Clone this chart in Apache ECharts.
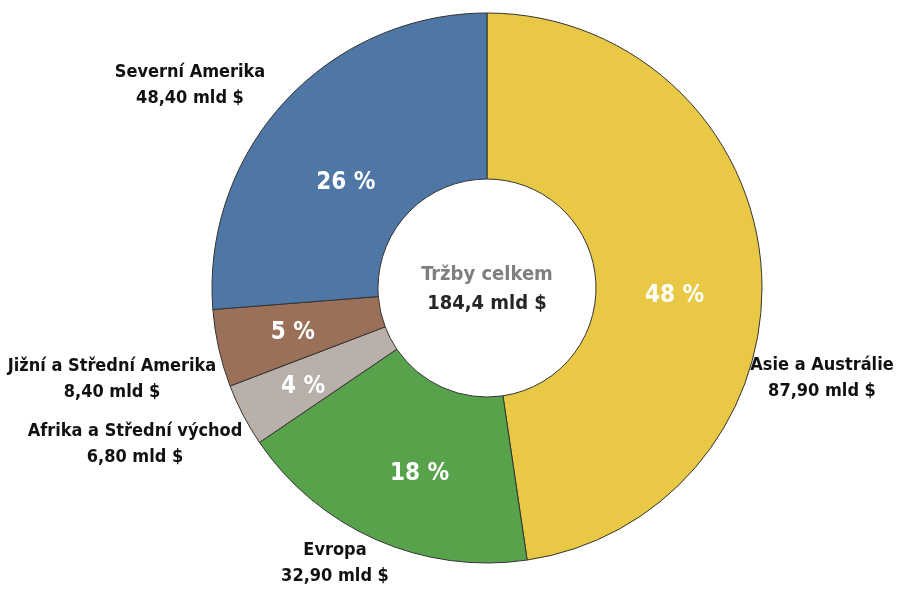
<!DOCTYPE html>
<html>
<head>
<meta charset="utf-8">
<script src="https://cdn.jsdelivr.net/npm/echarts@6/dist/echarts.min.js"></script>
<style>
  html, body { margin: 0; padding: 0; background: #fff; }
  #chart { width: 897px; height: 589px; }
</style>
</head>
<body>
<div id="chart"></div>
<script>
// Regional sales (bn USD)
const regions = ['Asie a Austrálie', 'Evropa', 'Afrika a Střední východ', 'Jižní a Střední Amerika', 'Severní Amerika'];
const sales = [87.90, 32.90, 6.80, 8.40, 48.40];
const sliceColors = ['#E9C846', '#58A24C', '#B9B0AA', '#9A7059', '#4E77A5'];
const centerTitle = 'Tržby celkem';
const centerTotal = '184,4 mld $';

// Label placement (outside name/value labels, and nudges for inside percentages)
const outerLabelPos = [[822, 378], [335, 563], [135, 444], [112, 379], [190, 85]];
const innerLabelNudge = [[-7, 22], [11, 7], [-11, 9], [-4, 2], [2, 27]];

const FONT = '"DejaVu Sans Condensed", "Liberation Sans Narrow", sans-serif';
const total = sales.reduce((a, b) => a + b, 0);
const fmt = v => v.toFixed(2).replace('.', ',') + ' mld $';

const data = regions.map((name, i) => ({
  name, value: sales[i], itemStyle: { color: sliceColors[i] }
}));

const chart = echarts.init(document.getElementById('chart'), null, { renderer: 'canvas' });

const center = [487, 288];
const radius = [109, 275];

chart.setOption({
  animation: false,
  series: [
    {
      type: 'pie',
      center, radius,
      startAngle: 90,
      clockwise: true,
      data,
      itemStyle: { borderColor: '#333333', borderWidth: 1 },
      label: {
        position: 'inside',
        formatter: p => Math.round(p.value / total * 100) + ' %',
        color: '#ffffff',
        fontFamily: FONT,
        fontWeight: 'bold',
        fontSize: 24
      },
      labelLayout: p => {
        const n = innerLabelNudge[p.dataIndex];
        return { dx: n[0], dy: n[1] };
      },
      emphasis: { disabled: true }
    },
    {
      type: 'pie',
      center, radius,
      startAngle: 90,
      clockwise: true,
      silent: true,
      data: data.map(d => ({ name: d.name, value: d.value, itemStyle: { color: 'rgba(0,0,0,0)' } })),
      itemStyle: { borderWidth: 0 },
      label: {
        position: 'outside',
        formatter: p => p.name + '\n' + fmt(p.value),
        color: '#111111',
        fontFamily: FONT,
        fontWeight: 'bold',
        fontSize: 18,
        lineHeight: 26,
        align: 'center',
        overflow: 'none'
      },
      labelLine: { show: false },
      labelLayout: p => {
        const q = outerLabelPos[p.dataIndex];
        return { x: q[0], y: q[1], align: 'center', verticalAlign: 'middle' };
      },
      emphasis: { disabled: true }
    }
  ],
  graphic: [
    {
      type: 'text', x: center[0], y: 275,
      style: { text: centerTitle, fill: '#7f7f7f', font: 'bold 20px ' + FONT, align: 'center', verticalAlign: 'middle' }
    },
    {
      type: 'text', x: center[0], y: 304,
      style: { text: centerTotal, fill: '#262626', font: 'bold 20px ' + FONT, align: 'center', verticalAlign: 'middle' }
    }
  ]
});
</script>
</body>
</html>
